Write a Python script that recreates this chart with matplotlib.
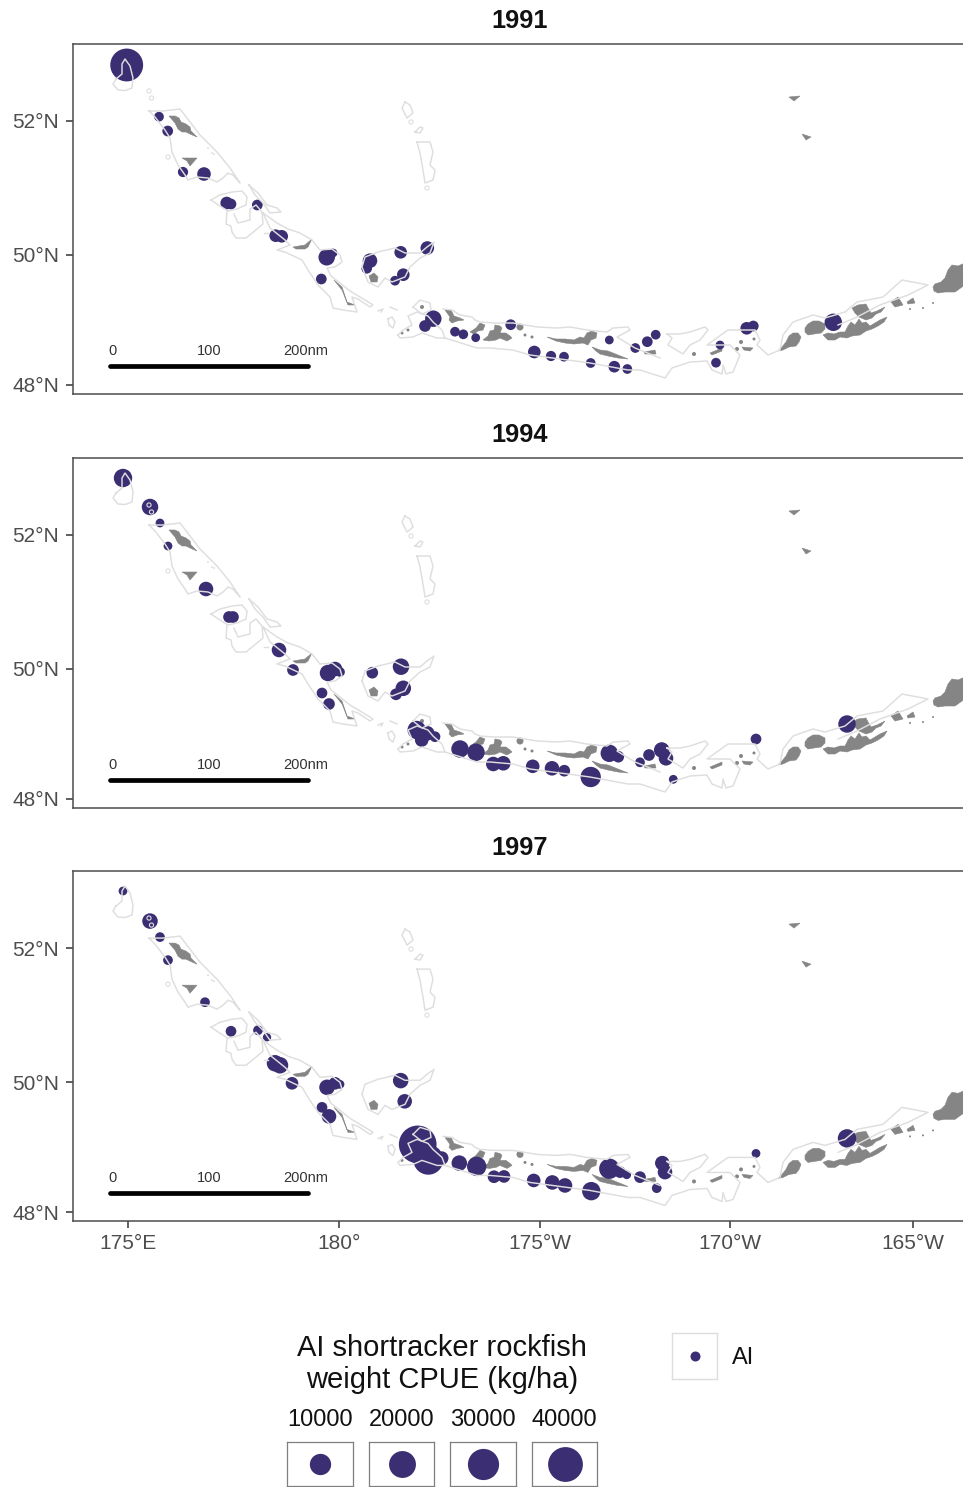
"""Shortracker rockfish CPUE bubble maps, Aleutian survey area, three survey years.

Map coordinates are projected map units (east, south), read off the figure.
"""
import numpy as np
import matplotlib
matplotlib.use("Agg")
import matplotlib.pyplot as plt
from matplotlib.patches import Polygon

plt.rcParams["font.family"] = ["Liberation Sans", "DejaVu Sans"]

W, H = 963, 1487
DOT = "#3B2E72"
LAND = "#858585"
SURVEY = "#dedede"

YEARS = ["1991", "1994", "1997"]
X_TICKS = [128, 339, 540, 730, 913]
X_LABELS = ["175°E", "180°", "175°W", "170°W", "165°W"]
Y_TICKS = [121, 255, 385]
Y_LABELS = ["52°N", "50°N", "48°N"]

x_1991 = [126.7, 159, 167.7, 183, 204, 226.7, 231, 257.3, 275.7, 281.7, 326.7, 333, 321.3, 370, 366.7,
          400.7, 427.3, 403.3, 395, 433.3, 425, 455, 463.3, 475.7, 510.7, 534.3, 551, 564, 590.7, 614.3,
          627.3, 609.3, 635.3, 647.3, 655.7, 720, 716, 746.7, 753.3, 833.3]
y_1991 = [65, 116.7, 131, 172, 174, 203, 204, 205, 235.7, 236.3, 257.3, 253, 279, 260.7, 268.3,
          252.3, 248, 274.7, 280.7, 318.7, 326, 331.7, 334.3, 337.7, 324.7, 352, 356, 356.7, 363, 366.7,
          369, 340, 348, 341.7, 334.7, 345, 362.7, 328.3, 326, 322.3]
cpue_1991 = [34500, 200, 460, 320, 1840, 1280, 460, 460, 1280, 1280, 4130, 50, 460, 2500, 460,
             1280, 1840, 1280, 200, 4130, 820, 200, 200, 50, 460, 1280, 320, 200, 200, 820,
             200, 50, 200, 460, 200, 50, 200, 1280, 460, 5100]

x_1994 = [123, 150, 160, 168, 206, 229, 233, 279, 293, 322, 329, 328, 335, 340, 372.3, 401, 403.3, 396,
          416.7, 421.7, 427.3, 435, 460, 476, 493.3, 503.3, 532.7, 552, 564.3, 590.7, 609.3, 618.3,
          640, 649, 661.7, 666, 673.3, 756, 847]
y_1994 = [64, 93, 109, 132, 175, 203, 203, 236, 256, 279, 290, 259, 255, 258, 258.7, 252.7, 274.3, 280.3,
          316, 326, 319.3, 322.7, 335, 338.3, 350, 349.3, 352.3, 354.3, 356.7, 363, 339.3, 342.7,
          348.3, 341, 336, 344.3, 365.3, 325, 310]
cpue_1994 = [6170, 4130, 50, 50, 2500, 820, 820, 2500, 820, 460, 820, 4130, 2500, 200, 820, 4130, 3270, 820,
             6170, 1840, 2500, 460, 5100, 5100, 2500, 2500, 1840, 2500, 820, 8620, 5100, 820,
             200, 820, 3270, 2500, 50, 460, 5100]

x_1997 = [123, 150, 160, 168, 205, 231, 258, 267, 275, 280, 292, 322, 329, 327, 335, 340, 400.7, 404.7,
          417.7, 428.3, 441.7, 459.3, 476.7, 494, 504, 533.7, 552.3, 565, 591.3, 609.3, 620, 626.7,
          640, 656.7, 662.3, 665, 756, 847]
y_1997 = [64, 94, 110, 133, 175, 204, 203, 210, 236, 238, 256, 280, 289, 260, 256, 257, 253.3, 274,
          317, 332.3, 330.7, 335.7, 339, 349.3, 349, 353, 355, 358, 363.7, 341.3, 344.7, 347.3,
          349.7, 360.7, 335.7, 344.7, 326, 311]
cpue_1997 = [50, 3270, 200, 200, 200, 460, 200, 13, 4130, 4130, 1280, 460, 2500, 3270, 1280, 50, 3270, 2500,
             49000, 27000, 1840, 3270, 7350, 1280, 1280, 1840, 2500, 2500, 6170, 8620, 820, 50,
             820, 200, 2500, 2500, 50, 6170]

# survey area outline, drawn over the bubbles
survey_lines = [
    [(116, 79), (113, 84), (118, 90), (125, 90.5), (132, 88), (133, 78), (130, 66), (125, 59), (122, 64), (122, 74), (116, 79)],
    [(149, 111), (163, 111), (180, 109), (190, 122), (200, 135), (217, 152), (230, 168), (240, 183), (233, 175), (228, 173),
     (223, 178), (217, 182), (208, 178), (197, 177), (188, 180), (185, 175), (178, 165), (172, 152), (170, 138), (165, 130), (155, 117), (149, 111)],
    [(211, 200), (220, 195), (232, 192), (242, 191), (247, 197), (246, 205), (237, 209), (228, 211), (220, 206), (211, 200)],
    [(227, 211), (226, 224), (231, 226), (232, 232), (236, 238), (246, 238), (257, 229), (263, 224), (262, 212), (256, 205),
     (250, 209), (250, 220), (238, 223), (234, 214)],
    [(249, 185), (258, 193), (267, 205), (277, 208), (281, 212), (270, 213), (263, 203), (255, 195), (249, 185)],
    [(263, 213), (277, 223), (288, 229), (300, 233), (312, 240), (320, 250), (332, 249), (340, 255), (342, 262), (335, 267),
     (327, 268), (331, 276), (340, 283), (350, 291), (365, 300), (373, 305), (370, 307), (358, 299), (352, 297), (357, 312),
     (343, 310), (333, 308), (330, 297), (318, 285), (308, 270), (302, 260), (285, 252), (277, 250), (290, 245), (285, 240), (270, 228), (263, 213)],
    [(362, 267), (365, 257), (378, 252), (395, 248), (405, 253), (420, 253), (427, 247), (434, 242), (430, 253), (420, 258),
     (410, 267), (405, 277), (392, 282), (385, 278), (378, 287), (368, 282), (362, 267)],
    [(405, 102), (402, 108), (407, 118), (413, 113), (410, 105), (405, 102)],
    [(415, 132), (420, 127), (423, 128), (420, 133), (415, 132)],
    [(417, 142), (430, 142), (433, 152), (430, 165), (435, 170), (433, 180), (425, 183), (423, 170), (420, 153), (417, 142)],
    [(388, 319), (392, 317), (395, 322), (393, 328), (389, 325), (388, 319)],
    [(413, 307), (420, 300), (430, 303), (431, 310), (422, 314), (413, 307)],
    [(398, 335), (403, 330), (412, 325), (408, 316), (417, 312), (428, 316), (433, 322), (442, 330), (445, 338), (437, 338),
     (422, 333), (413, 337), (400, 338), (398, 335)],
    [(443, 309), (452, 310), (460, 315), (472, 317), (475, 320), (480, 322), (495, 323), (513, 323), (537, 327), (557, 328),
     (570, 327), (587, 330), (607, 332), (613, 328), (628, 327), (630, 330), (617, 337), (635, 348), (660, 358)],
    [(445, 338), (477, 348), (490, 348), (513, 350), (530, 355), (590, 363), (628, 370), (640, 370), (665, 378), (672, 368),
     (690, 362), (707, 361), (712, 370), (722, 374), (723, 365), (726, 374), (733, 372), (740, 355), (730, 345), (707, 345),
     (728, 330), (755, 330), (760, 340), (757, 345), (768, 355), (780, 350), (783, 335), (793, 322), (813, 315), (825, 318),
     (845, 312), (857, 302), (883, 297), (902, 280), (928, 285), (908, 295), (880, 305), (855, 318), (838, 325)],
    [(667, 334), (680, 334), (690, 332), (705, 327), (708, 330), (700, 340), (690, 345), (683, 354), (668, 345), (672, 338), (667, 334)],
    [(378, 311), (383, 309), (381, 312)], [(390, 307), (397, 310)], [(264, 233), (268, 233)],
]
survey_x = [149, 151.5, 168, 411, 427]  # tiny rings
survey_y = [91, 98, 157, 122, 188]

land_polys = [
    [(169, 116), (175, 116), (179, 118), (181, 122), (186, 124), (190, 127), (191, 131), (197, 137), (190, 134), (186, 132), (182, 132), (178, 129), (175, 123)],
    [(182, 158), (197, 158), (190, 166), (187, 161)],
    [(293, 247), (305, 245), (312, 239), (308, 247), (305, 249), (296, 249)],
    [(334, 280), (342, 287), (347, 302), (355, 305), (348, 305), (342, 290)],
    [(369, 276), (374, 273), (378, 277), (377, 282), (371, 282)],
    [(445, 310), (451, 310), (454, 316), (460, 318), (464, 320), (457, 321), (452, 323), (449, 320), (450, 317)],
    [(470, 332), (476, 328), (480, 323), (485, 325), (483, 330), (478, 331), (474, 334)],
    [(483, 340), (488, 336), (490, 331), (494, 330), (495, 325), (500, 326), (502, 328), (500, 333), (506, 333), (510, 336), (512, 338), (507, 341), (500, 338), (496, 340), (489, 341)],
    [(547, 337), (556, 339), (565, 339), (574, 340), (580, 337), (584, 338), (587, 333), (592, 331), (597, 333), (596, 338), (591, 340), (588, 345), (583, 343), (574, 344), (565, 343), (556, 341)],
    [(592, 347), (600, 350), (608, 351), (618, 355), (628, 359), (618, 358), (608, 356), (600, 354), (596, 351)],
    [(644, 352), (655, 350), (656, 354), (645, 354)],
    [(710, 353), (722, 348), (722, 351), (712, 355)],
    [(742, 347), (753, 348), (750, 351), (744, 350)],
    [(778, 351), (782, 347), (786, 342), (789, 336), (793, 333), (798, 333), (801, 337), (799, 342), (796, 346), (789, 347), (783, 350)],
    [(805, 328), (808, 324), (813, 321), (819, 321), (825, 324), (825, 329), (821, 333), (814, 334), (808, 335), (805, 332)],
    [(823, 335), (828, 333), (834, 334), (840, 332), (845, 332), (848, 326), (851, 322), (855, 325), (859, 319), (862, 323), (866, 322), (870, 326), (875, 323), (880, 320), (887, 317), (884, 322), (878, 326), (872, 329), (866, 331), (860, 335), (852, 336), (847, 338), (840, 337), (835, 340), (828, 340)],
    [(852, 308), (858, 305), (866, 304), (868, 308), (871, 313), (877, 311), (885, 307), (881, 312), (876, 314), (872, 318), (866, 320), (859, 317), (855, 313)],
    [(891, 302), (898, 297), (903, 305), (895, 307)],
    [(907, 302), (913, 298), (915, 303), (908, 304)],
    [(933, 287), (935, 284), (941, 282), (945, 278), (948, 270), (952, 265), (958, 266), (965, 263), (970, 262), (970, 283), (962, 287), (955, 292), (945, 292), (938, 293), (934, 291)],
    [(789, 97), (800, 96), (794, 101)],
    [(802, 134), (811, 137), (806, 140)],
]
land_x = [208, 212, 214, 422, 520, 525, 532, 694, 741, 737, 754, 910, 923, 933, 402, 408]
land_y = [148, 153, 154, 307, 327, 335, 337, 354, 342, 349, 339, 309, 308, 303, 333, 330]
land_d = [1, 1, 1, 4, 7, 3, 3, 4, 4, 4, 3, 2, 2, 2, 3, 3]

scale_pos = [112, 209, 306]
scale_labels = ["0", "100", "200nm"]
scale_bar = [110, 308]

legend_cpue = [10000, 20000, 30000, 40000]
legend_labels = ["10000", "20000", "30000", "40000"]
legend_left = [287, 369, 450, 532]
legend_right = [353, 434, 516, 597]


def size_pts(cpue):
    """scatter size (pt^2) for a CPUE: radius scales with sqrt of the value."""
    d_px = 7.8 + 0.135 * np.sqrt(np.asarray(cpue, dtype=float))
    return (d_px * 72 / 100) ** 2


def px_axes(fig, left, top, right, bottom):
    return fig.add_axes([left / W, 1 - bottom / H, (right - left) / W, (bottom - top) / H])


def draw_map(ax, x, y, cpue, show_x):
    for poly in land_polys:
        ax.add_patch(Polygon(poly, closed=True, fc=LAND, ec=LAND, lw=0.4, zorder=1))
    ax.scatter(land_x, land_y, s=(np.array(land_d) * 0.72) ** 2, c=LAND, lw=0, zorder=1)
    ax.scatter(x, y, s=size_pts(cpue), c=DOT, lw=0, zorder=2)
    for line in survey_lines:
        xs, ys = zip(*line)
        ax.plot(xs, ys, color=SURVEY, lw=1.05, solid_joinstyle="round", zorder=3)
    ax.scatter(survey_x, survey_y, s=9, fc="none", ec=SURVEY, lw=0.8, zorder=3)

    ax.plot(scale_bar, [365.5, 365.5], color="black", lw=3.4, solid_capstyle="round", zorder=4)
    for p, lab in zip(scale_pos, scale_labels):
        ax.text(p, 351, lab, ha="center", va="center", fontsize=10.5, color="#333333")

    ax.set_xlim(72.5, 968)
    ax.set_ylim(393.5, 44)
    ax.set_yticks(Y_TICKS)
    ax.set_yticklabels(Y_LABELS)
    ax.set_xticks(X_TICKS)
    ax.set_xticklabels(X_LABELS if show_x else [])
    ax.tick_params(axis="x", length=5 if show_x else 0, width=1.1, color="#333333", labelcolor="#4d4d4d", labelsize=15, pad=4.5)
    ax.tick_params(axis="y", length=5, width=1.1, color="#333333", labelcolor="#4d4d4d", labelsize=15, pad=4.5)
    for s in ax.spines.values():
        s.set_color("#4d4d4d")
        s.set_linewidth(1.1)


def main():
    fig = plt.figure(figsize=(W / 100, H / 100), dpi=100)

    panels = [(44, 393.5), (458, 807.5), (871, 1221)]
    data = [(x_1991, y_1991, cpue_1991), (x_1994, y_1994, cpue_1994), (x_1997, y_1997, cpue_1997)]
    for i, ((top, bottom), (x, y, c)) in enumerate(zip(panels, data)):
        ax = px_axes(fig, 72.5, top, 968, bottom)
        draw_map(ax, x, y, c, i == 2)
        fig.text(520 / W, 1 - (top - 23) / H, YEARS[i], ha="center", va="center", fontsize=18.3, fontweight="bold", color="#111111")

    # size legend
    fig.text(442 / W, 1 - 1348.5 / H, "AI shortracker rockfish", ha="center", va="center", fontsize=21, color="#111111")
    fig.text(442 / W, 1 - 1379.5 / H, "weight CPUE (kg/ha)", ha="center", va="center", fontsize=21, color="#111111")
    for c, lab, l, r in zip(legend_cpue, legend_labels, legend_left, legend_right):
        fig.text((l + r) / 2 / W, 1 - 1420 / H, lab, ha="center", va="center", fontsize=17, color="#111111")
        k = px_axes(fig, l, 1442, r, 1486)
        k.scatter([0.5], [0.5], s=size_pts(c), c=DOT, lw=0)
        k.set_xlim(0, 1)
        k.set_ylim(0, 1)
        k.set_xticks([])
        k.set_yticks([])
        for s in k.spines.values():
            s.set_color("#7f7f7f")
            s.set_linewidth(0.9)

    # region legend
    k = px_axes(fig, 672, 1333, 717, 1379)
    k.scatter([0.5], [0.5], s=(10 * 0.72) ** 2, c=DOT, lw=0)
    k.set_xlim(0, 1)
    k.set_ylim(0, 1)
    k.set_xticks([])
    k.set_yticks([])
    for s in k.spines.values():
        s.set_color("#dddddd")
        s.set_linewidth(1.0)
    fig.text(732 / W, 1 - 1357.5 / H, "AI", ha="left", va="center", fontsize=17, color="#111111")

    fig.savefig("out.png", dpi=100)


if __name__ == "__main__":
    main()
